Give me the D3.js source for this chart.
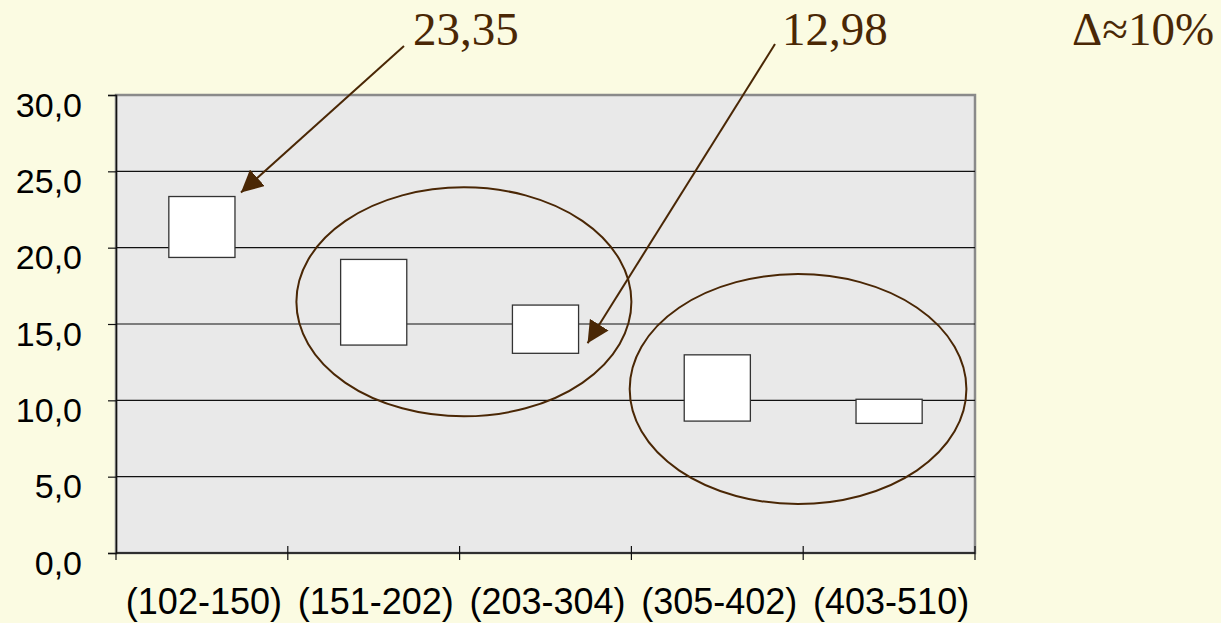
<!DOCTYPE html>
<html>
<head>
<meta charset="utf-8">
<script src="https://cdn.jsdelivr.net/npm/d3@7/dist/d3.min.js"></script>
<style>
  html, body { margin: 0; padding: 0; background: #fbfbe2; }
  svg { display: block; }
</style>
</head>
<body>
<svg id="chart" width="1221" height="623"></svg>
<script>
// Size ranges and their value spread
const categories = ["(102-150)", "(151-202)", "(203-304)", "(305-402)", "(403-510)"];
const highValues = [23.35, 19.23, 16.24, 12.98, 10.07];
const lowValues  = [19.36, 13.62, 13.08, 8.64, 8.49];
const yTicks = [0, 5, 10, 15, 20, 25, 30];

// Callouts: label text and index of the box pointed at
const callouts = [
  { text: "23,35", box: 0 },
  { text: "12,98", box: 2 }
];
const noteText = "\u0394\u224810%";

// Groups circled by ellipses: span in band units, vertical centre and half-height in value units
const groupStart  = [1.05, 2.99];
const groupEnd    = [3.00, 4.95];
const groupCenter = [16.45, 10.74];
const groupHalf   = [7.5, 7.53];

const svg = d3.select("#chart");
const brown = "#4a2705";
const sans = "Liberation Sans, Arial, sans-serif";
const serif = "Liberation Serif, Times New Roman, serif";

const margin = { left: 116, right: 246, top: 95, bottom: 70 };
const W = 1221, H = 623;

const x = d3.scaleBand()
  .domain(categories)
  .range([margin.left, W - margin.right])
  .paddingInner(0).paddingOuter(0);

const y = d3.scaleLinear()
  .domain([0, 30])
  .range([H - margin.bottom, margin.top]);

const bandPos = u => x.range()[0] + u * x.bandwidth();

// plot area
svg.append("rect")
  .attr("x", x.range()[0]).attr("y", y(30))
  .attr("width", x.range()[1] - x.range()[0])
  .attr("height", y(0) - y(30))
  .attr("fill", "#e9e9e9")
  .attr("stroke", "#8a8a8a").attr("stroke-width", 2.5);

// gridlines
svg.append("g").selectAll("line")
  .data(yTicks.filter(d => d > 0 && d < 30))
  .join("line")
  .attr("x1", x.range()[0]).attr("x2", x.range()[1])
  .attr("y1", d => y(d)).attr("y2", d => y(d))
  .attr("stroke", "#111").attr("stroke-width", 1.2);

// y axis
const yAxis = svg.append("g")
  .attr("transform", `translate(${x.range()[0]},0)`)
  .call(d3.axisLeft(y).tickValues(yTicks).tickSize(8).tickPadding(26)
    .tickFormat(d => d3.format(".1f")(d).replace(".", ",")));
yAxis.select(".domain").attr("stroke", "#111").attr("stroke-width", 1.5);
yAxis.selectAll(".tick line").attr("stroke", "#111").attr("stroke-width", 1.2);
yAxis.selectAll("text")
  .attr("font-family", sans)
  .attr("font-size", 34).attr("fill", "#000")
  .attr("dy", "0.62em");

// x axis: ticks on band edges crossing the baseline
const edges = categories.map(c => x(c)).concat([x.range()[1]]);
svg.append("line")
  .attr("x1", x.range()[0]).attr("x2", x.range()[1])
  .attr("y1", y(0)).attr("y2", y(0))
  .attr("stroke", "#111").attr("stroke-width", 1.5);
svg.append("g").selectAll("line")
  .data(edges)
  .join("line")
  .attr("x1", d => d).attr("x2", d => d)
  .attr("y1", (d, i) => i === 0 ? y(0) : y(0) - 7)
  .attr("y2", y(0) + 7)
  .attr("stroke", "#111").attr("stroke-width", 1.2);
svg.append("g").selectAll("text")
  .data(categories)
  .join("text")
  .attr("x", d => x(d) + x.bandwidth() / 2 + 2)
  .attr("y", y(0) + 61)
  .attr("text-anchor", "middle")
  .attr("font-family", sans)
  .attr("font-size", 36).attr("fill", "#000")
  .text(d => d);

// range boxes
const boxW = x.bandwidth() * 0.385;
svg.append("g").selectAll("rect")
  .data(categories)
  .join("rect")
  .attr("x", d => x(d) + (x.bandwidth() - boxW) / 2)
  .attr("width", boxW)
  .attr("y", (d, i) => y(highValues[i]))
  .attr("height", (d, i) => y(lowValues[i]) - y(highValues[i]))
  .attr("fill", "#fff")
  .attr("stroke", "#333").attr("stroke-width", 1.3);

// ellipses around groups
groupStart.forEach((s, i) => {
  const left = bandPos(s), right = bandPos(groupEnd[i]);
  svg.append("ellipse")
    .attr("cx", (left + right) / 2).attr("cy", y(groupCenter[i]))
    .attr("rx", (right - left) / 2)
    .attr("ry", y(0) - y(groupHalf[i]))
    .attr("fill", "none").attr("stroke", brown).attr("stroke-width", 2);
});

// arrowhead marker
svg.append("defs").append("marker")
  .attr("id", "head").attr("viewBox", "0 0 10 10")
  .attr("refX", 10).attr("refY", 5)
  .attr("markerWidth", 22).attr("markerHeight", 22)
  .attr("markerUnits", "userSpaceOnUse")
  .attr("orient", "auto")
  .append("path").attr("d", "M0,0 L10,5 L0,10 Z").attr("fill", brown);

// callout labels with arrows
const labelPos = [
  { lx: 413, ly: 45, sx: 404, sy: 46, tipDx: 6, tipDy: -4, edge: "high" },
  { lx: 782, ly: 45, sx: 775, sy: 44, tipDx: 9, tipDy: -10, edge: "low" }
];
callouts.forEach((c, i) => {
  const p = labelPos[i];
  const cat = categories[c.box];
  const bx = x(cat) + (x.bandwidth() + boxW) / 2;
  const by = y(p.edge === "high" ? highValues[c.box] : lowValues[c.box]);
  svg.append("line")
    .attr("x1", p.sx).attr("y1", p.sy)
    .attr("x2", bx + p.tipDx).attr("y2", by + p.tipDy)
    .attr("stroke", brown).attr("stroke-width", 2)
    .attr("marker-end", "url(#head)");
  svg.append("text")
    .attr("x", p.lx).attr("y", p.ly)
    .attr("font-family", serif)
    .attr("font-size", 47).attr("fill", brown)
    .text(c.text);
});

svg.append("text")
  .attr("x", 1072).attr("y", 45)
  .attr("font-family", serif)
  .attr("font-size", 47).attr("fill", brown)
  .text(noteText);
</script>
</body>
</html>
